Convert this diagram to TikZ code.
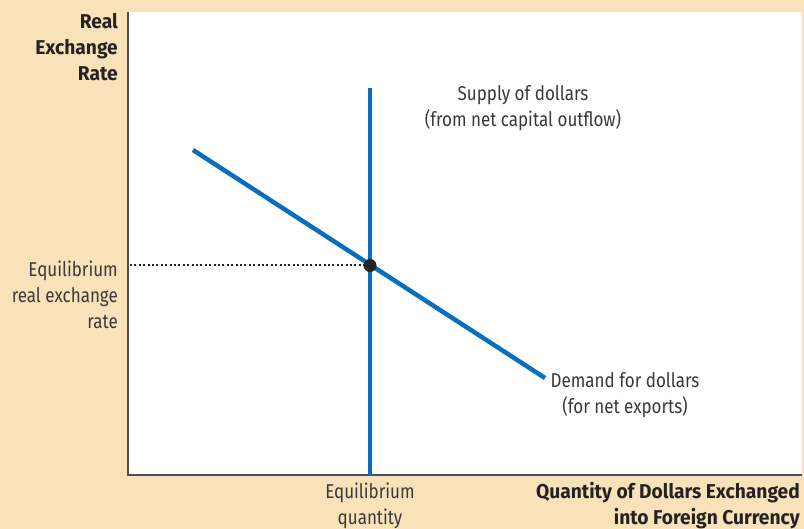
\documentclass[tikz,border=0pt]{standalone}
\usepackage{fontspec}
\newfontfamily\regf[FakeStretch=0.85]{Fira Sans}
\newfontfamily\boldf[FakeStretch=0.96]{Fira Sans}
\definecolor{beige}{HTML}{F7E2B9}
\definecolor{curveblue}{HTML}{0A6EBD}
\definecolor{txt}{HTML}{262223}
\begin{document}
\begin{tikzpicture}[x=1pt,y=-1pt,
  lbl/.style={font=\regf\fontsize{20}{26}\selectfont, text=txt!90, inner sep=0pt},
  blbl/.style={font=\boldf\fontsize{20}{26}\selectfont\bfseries, text=txt, inner sep=0pt},
  curve/.style={curveblue, line width=4.5pt},
  axis/.style={txt!80, line width=1.2pt}]
\useasboundingbox (0,0) rectangle (804,529);
\fill[beige] (0,0) rectangle (804,529);
\fill[white] (128,12) rectangle (802,475);
% axes
\coordinate (origin) at (128,475);
\coordinate (ytop) at (128,12);
\coordinate (xend) at (802,475);
\draw[axis] (ytop) -- (origin) -- (xend);
% curves
\coordinate (stop) at (370,88);
\coordinate (sbot) at (370,475);
\coordinate (dtop) at (193,150);
\coordinate (dbot) at (545,378);
\draw[curve] (stop) -- (sbot);
\draw[curve] (dtop) -- (dbot);
\node[circle, fill=txt, inner sep=0pt, minimum size=13pt] (eq) at (370,265.5) {};
\coordinate (yeq) at (130,265.5);
\draw[txt, line width=2pt, dash pattern=on 2pt off 2.4pt] (yeq) -- (eq);
% labels
\node[blbl, anchor=east, align=right] (ylab) at (118,47) {Real\\Exchange\\Rate};
\node[lbl, anchor=east, align=right] (eqr) at (118,295) {Equilibrium\\real exchange\\rate};
\node[lbl, align=center] (slab) at (523,108) {Supply of dollars\\(from net capital outflow)};
\node[lbl, align=center] (dlab) at (625,395) {Demand for dollars\\(for net exports)};
\node[lbl, align=center] (eqq) at (370,506) {Equilibrium\\quantity};
\node[blbl, anchor=east, align=right] (xlab) at (800,506) {Quantity of Dollars Exchanged\\into Foreign Currency};
\end{tikzpicture}
\end{document}
